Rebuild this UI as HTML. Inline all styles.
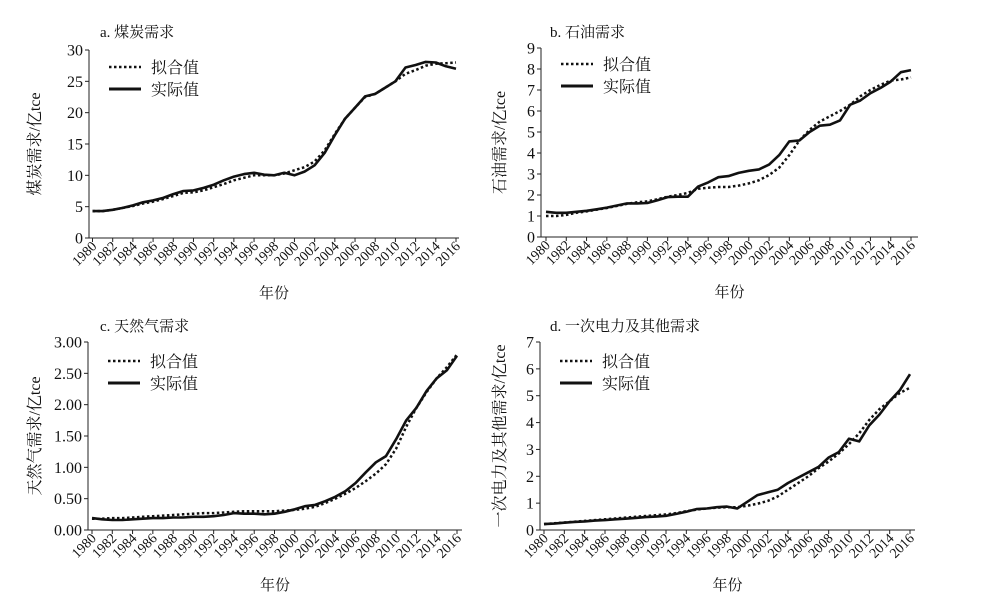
<!DOCTYPE html>
<html><head><meta charset="utf-8"><style>
body{margin:0;background:#fff}
svg text{font-family:"Liberation Serif","Noto Serif CJK SC",serif;fill:#111}
</style></head><body>
<svg id="s" width="1000" height="600" xmlns="http://www.w3.org/2000/svg"></svg>
<script>
const P=[
 {t:"a. 煤炭需求",yl:"煤炭需求/亿tce",ax:89,x0:92.5,x1:456,xe:459,top:50,bot:238,max:30,step:5,dec:0,tx:100,ty:37,ly:67,ylx:40,
  a:[4.3,4.3,4.5,4.8,5.2,5.7,6.0,6.4,7.0,7.5,7.6,8.0,8.5,9.2,9.8,10.2,10.4,10.1,10.0,10.4,10.0,10.6,11.6,13.6,16.4,19.0,20.8,22.6,23.0,24.0,25.0,27.2,27.6,28.1,28.0,27.4,27.0],
  f:[4.3,4.3,4.5,4.8,5.1,5.5,5.8,6.2,6.7,7.2,7.3,7.6,8.1,8.6,9.2,9.6,10.0,10.0,10.0,10.3,10.8,11.3,12.2,14.0,16.6,19.0,20.8,22.5,23.0,24.0,25.0,26.2,26.8,27.5,27.8,27.9,28.0]},
 {t:"b. 石油需求",yl:"石油需求/亿tce",ax:541,x0:546,x1:911,xe:918,top:48,bot:237,max:9,step:1,dec:0,tx:550,ty:37,ly:64,ylx:505,
  a:[1.2,1.15,1.15,1.2,1.25,1.32,1.4,1.5,1.6,1.6,1.62,1.75,1.9,1.92,1.92,2.4,2.6,2.85,2.9,3.05,3.15,3.22,3.45,3.9,4.55,4.6,5.0,5.3,5.35,5.55,6.3,6.5,6.85,7.1,7.4,7.85,7.95],
  f:[1.0,1.0,1.05,1.15,1.22,1.3,1.38,1.48,1.58,1.65,1.7,1.8,1.92,2.0,2.1,2.3,2.35,2.38,2.38,2.45,2.55,2.7,2.95,3.3,3.9,4.6,5.1,5.5,5.75,6.0,6.3,6.7,7.0,7.25,7.45,7.5,7.6]},
 {t:"c. 天然气需求",yl:"天然气需求/亿tce",ax:88,x0:92,x1:457,xe:462,top:342,bot:530,max:3,step:0.5,dec:2,tx:100,ty:331,ly:361,ylx:40,
  a:[0.19,0.17,0.16,0.16,0.17,0.18,0.19,0.19,0.20,0.20,0.21,0.21,0.22,0.24,0.27,0.26,0.26,0.25,0.26,0.29,0.33,0.38,0.40,0.46,0.53,0.62,0.75,0.92,1.08,1.18,1.45,1.75,1.95,2.22,2.42,2.55,2.78],
  f:[0.18,0.18,0.19,0.19,0.20,0.21,0.22,0.23,0.24,0.25,0.26,0.27,0.27,0.28,0.29,0.30,0.30,0.30,0.30,0.31,0.32,0.34,0.37,0.43,0.50,0.58,0.67,0.78,0.90,1.05,1.30,1.65,1.95,2.2,2.42,2.6,2.8]},
 {t:"d. 一次电力及其他需求",yl:"一次电力及其他需求/亿tce",ax:540,x0:544,x1:910,xe:915,top:342,bot:530,max:7,step:1,dec:0,tx:550,ty:331,ly:361,ylx:505,
  a:[0.22,0.24,0.27,0.30,0.32,0.35,0.37,0.40,0.42,0.45,0.48,0.50,0.53,0.6,0.68,0.78,0.8,0.85,0.87,0.8,1.05,1.3,1.4,1.5,1.75,1.95,2.15,2.35,2.7,2.9,3.4,3.3,3.9,4.3,4.8,5.2,5.8],
  f:[0.22,0.25,0.28,0.31,0.34,0.37,0.40,0.43,0.46,0.49,0.52,0.55,0.58,0.63,0.7,0.76,0.8,0.83,0.85,0.85,0.9,0.98,1.08,1.25,1.5,1.75,2.0,2.3,2.55,2.85,3.2,3.6,4.1,4.5,4.8,5.1,5.3]}
];
let h="";
for(const p of P){
 const X=i=>p.x0+(p.x1-p.x0)*i/36, Y=v=>p.bot-(p.bot-p.top)*v/p.max;
 h+=`<line x1="${p.ax}" y1="${p.top}" x2="${p.ax}" y2="${p.bot}" stroke="#222" stroke-width="1"/>`;
 h+=`<line x1="${p.ax}" y1="${p.bot}" x2="${p.xe}" y2="${p.bot}" stroke="#222" stroke-width="1"/>`;
 for(let v=0;v<=p.max+1e-9;v+=p.step){const y=Y(v);
  h+=`<line x1="${p.ax-4}" y1="${y}" x2="${p.ax}" y2="${y}" stroke="#222"/>`;
  h+=`<text x="${p.ax-6}" y="${y+5.5}" font-size="16" text-anchor="end">${v.toFixed(p.dec)}</text>`;}
 for(let i=0;i<=36;i+=2){const x=X(i);
  h+=`<line x1="${x}" y1="${p.bot}" x2="${x}" y2="${p.bot+4}" stroke="#222"/>`;
  h+=`<text transform="translate(${x+5},${p.bot+9}) rotate(-45)" font-size="14" text-anchor="end">${1980+i}</text>`;}
 h+=`<text x="${p.tx}" y="${p.ty}" font-size="15">${p.t}</text>`;
 const cx=(p.ax+p.xe)/2;
 h+=`<text x="${cx}" y="${p.bot+60}" font-size="15" text-anchor="middle">年份</text>`;
 const cy=(p.top+p.bot)/2;
 h+=`<text transform="translate(${p.ylx},${cy}) rotate(-90)" font-size="16" text-anchor="middle">${p.yl}</text>`;
 const lx=p.ax+20;
 h+=`<line x1="${lx}" y1="${p.ly}" x2="${lx+32}" y2="${p.ly}" stroke="#111" stroke-width="2.5" stroke-dasharray="2.5,2.5"/>`;
 h+=`<text x="${lx+42}" y="${p.ly+6}" font-size="16">拟合值</text>`;
 h+=`<line x1="${lx}" y1="${p.ly+22}" x2="${lx+32}" y2="${p.ly+22}" stroke="#111" stroke-width="3"/>`;
 h+=`<text x="${lx+42}" y="${p.ly+28}" font-size="16">实际值</text>`;
 const pts=a=>a.map((v,i)=>X(i).toFixed(1)+","+Y(v).toFixed(1)).join(" ");
 h+=`<polyline points="${pts(p.f)}" fill="none" stroke="#111" stroke-width="2.5" stroke-dasharray="2.5,2.5"/>`;
 h+=`<polyline points="${pts(p.a)}" fill="none" stroke="#111" stroke-width="2.6" stroke-linejoin="round"/>`;
}
document.getElementById("s").innerHTML=h;
</script>
</body></html>
